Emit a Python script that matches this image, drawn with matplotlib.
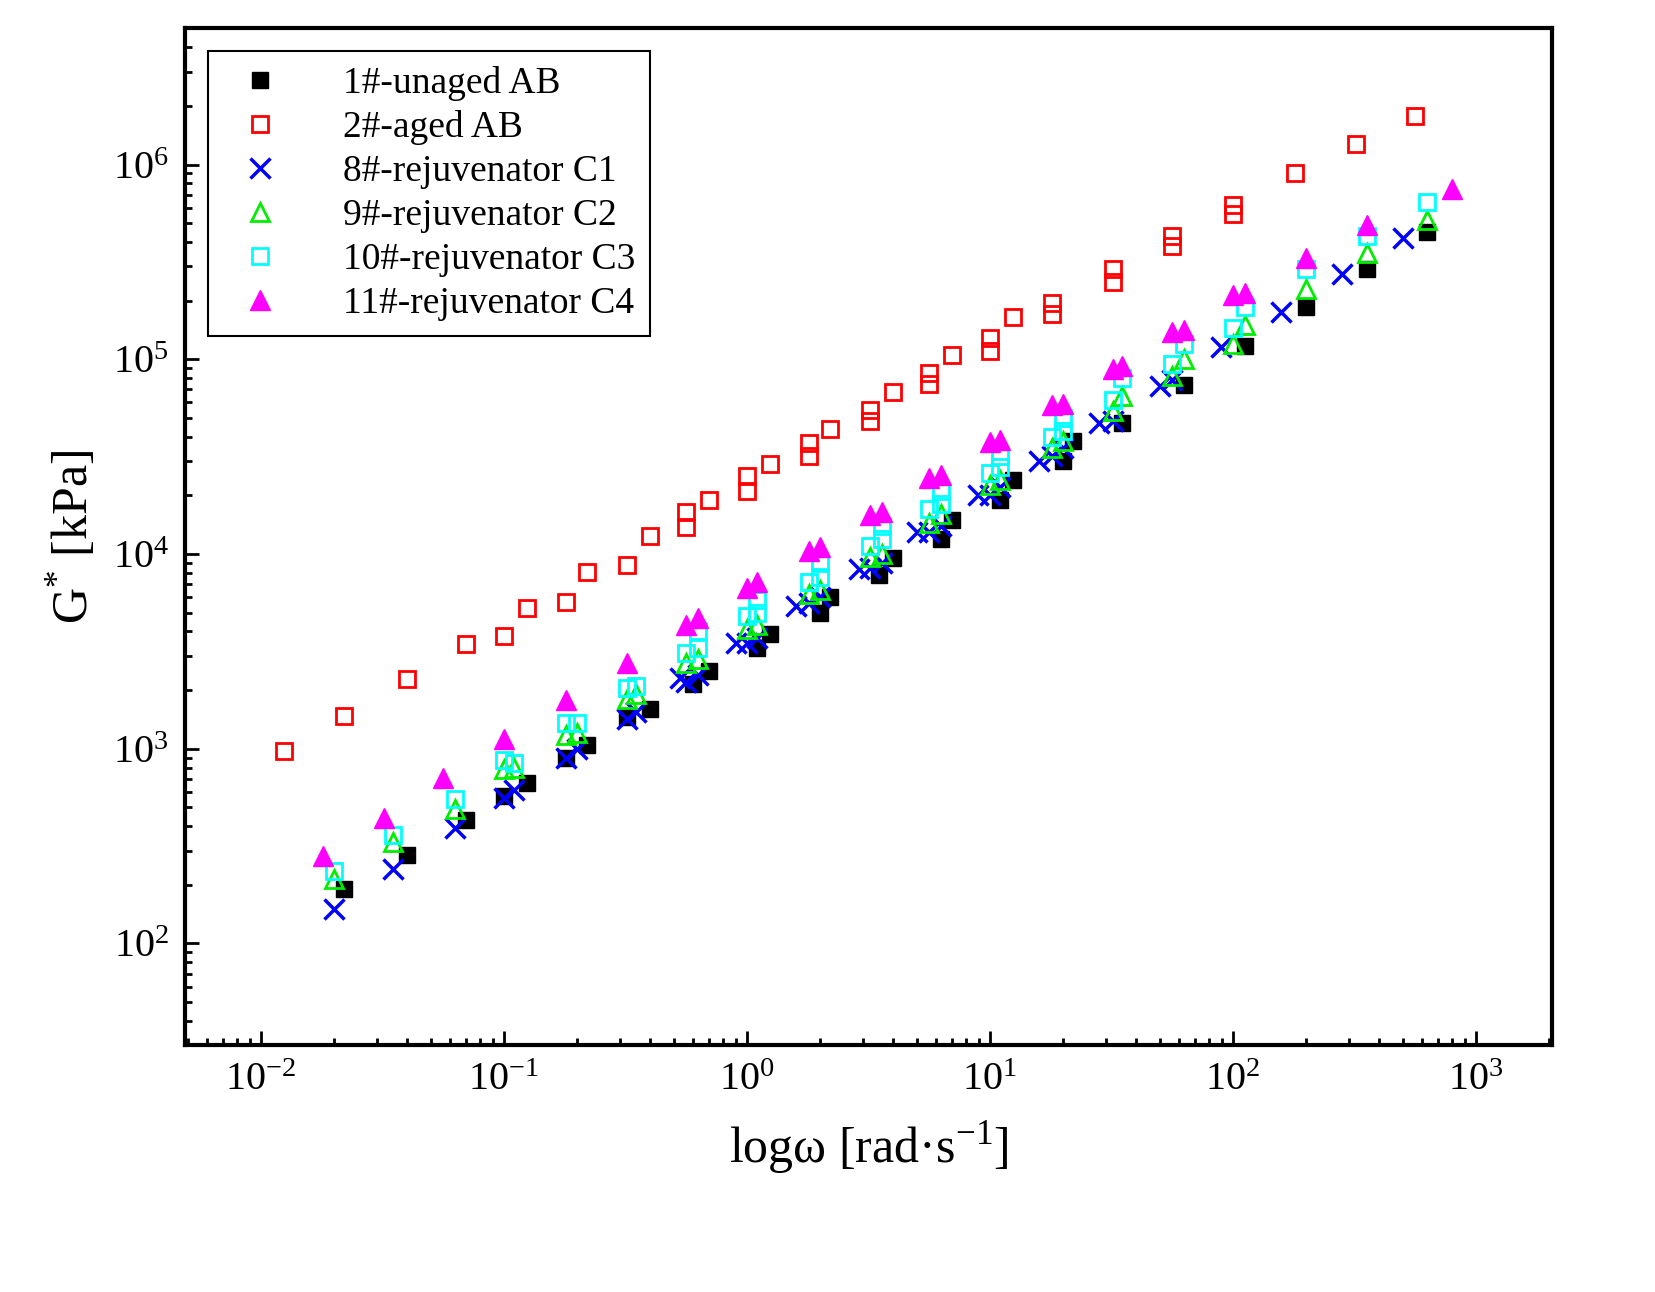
import numpy as np
import matplotlib
matplotlib.use('Agg')
from matplotlib import pyplot as plt

plt.rcParams['font.family'] = 'Liberation Serif'
plt.rcParams['mathtext.fontset'] = 'custom'
plt.rcParams['mathtext.rm'] = 'Liberation Serif'

unaged_w = [0.022, 0.04, 0.07, 0.1, 0.125, 0.18, 0.22, 0.32, 0.4, 0.6, 0.7, 1.1, 1.25, 2, 2.2,
            3.5, 4, 6.3, 7, 11, 12.5, 20, 22, 35, 63, 112, 200, 355, 630]
unaged_g = [190, 285, 430, 570, 670, 900, 1040, 1450, 1600, 2150, 2500, 3300, 3900, 5000, 6000,
            7800, 9500, 12000, 15000, 19000, 24000, 30000, 38000, 47000, 74000, 117000, 185000,
            290000, 450000]

aged_w = [0.0125, 0.022, 0.04, 0.07, 0.1, 0.125, 0.18, 0.22, 0.32, 0.4, 0.56, 0.56, 0.7, 1, 1,
          1.25, 1.8, 1.8, 2.2, 3.2, 3.2, 4, 5.6, 5.6, 7, 10, 10, 12.5, 18, 18, 32, 32, 56, 56,
          100, 100, 180, 320, 560]
aged_g = [970, 1480, 2280, 3450, 3800, 5300, 5700, 8100, 8800, 12300, 13800, 16500, 19000, 21000,
          25000, 29000, 32000, 37000, 44000, 48000, 55000, 68000, 75000, 85000, 105000, 110000,
          128000, 165000, 170000, 195000, 250000, 290000, 380000, 430000, 560000, 620000, 900000,
          1280000, 1780000]

c1_w = [0.02, 0.035, 0.063, 0.1, 0.11, 0.18, 0.2, 0.32, 0.35, 0.53, 0.56, 0.63, 0.9, 1, 1.1,
        1.6, 1.8, 2, 2.9, 3.2, 3.6, 5, 5.6, 6.3, 8.9, 10, 11, 16, 18, 20, 28, 32, 50, 56, 89,
        158, 280, 500]
c1_g = [150, 240, 390, 560, 610, 900, 1000, 1420, 1550, 2300, 2200, 2400, 3500, 3500, 3700,
        5400, 5600, 6000, 8400, 8500, 9000, 13000, 13000, 14000, 20000, 20000, 22000, 30000,
        32000, 35000, 47000, 48000, 73000, 78000, 115000, 175000, 275000, 420000]

c2_w = [0.02, 0.035, 0.063, 0.1, 0.11, 0.18, 0.2, 0.32, 0.35, 0.56, 0.63, 1, 1.1, 1.8, 2, 3.2,
        3.6, 5.6, 6.3, 10, 11, 18, 20, 32, 35, 56, 63, 100, 112, 200, 355, 630]
c2_g = [215, 330, 490, 790, 800, 1170, 1200, 1800, 1900, 2750, 2900, 4100, 4300, 6200, 6500,
        9700, 10000, 14500, 16000, 22500, 24000, 35000, 38000, 54000, 65000, 82000, 100000,
        120000, 150000, 230000, 350000, 520000]

c3_w = [0.02, 0.035, 0.063, 0.1, 0.11, 0.18, 0.2, 0.32, 0.35, 0.56, 0.63, 0.63, 1, 1.1, 1.1,
        1.8, 2, 2, 3.2, 3.6, 3.6, 5.6, 6.3, 6.3, 10, 11, 11, 18, 20, 20, 32, 35, 56, 63, 100,
        112, 200, 355, 630]
c3_g = [235, 360, 550, 880, 840, 1350, 1350, 2050, 2100, 3100, 3300, 4000, 4800, 5000, 5800,
        7200, 7600, 9000, 11000, 12000, 14000, 17000, 18000, 21000, 26000, 28000, 32000, 40000,
        43000, 50000, 62000, 80000, 95000, 120000, 145000, 185000, 290000, 430000, 640000]

c4_w = [0.018, 0.032, 0.056, 0.1, 0.18, 0.32, 0.56, 0.63, 1, 1.1, 1.8, 2, 3.2, 3.6, 5.6, 6.3,
        10, 11, 18, 20, 32, 35, 56, 63, 100, 112, 200, 355, 800]
c4_g = [280, 440, 710, 1120, 1780, 2750, 4300, 4700, 6700, 7200, 10300, 10800, 15800, 16500,
        24500, 25500, 37500, 38500, 58000, 59000, 89000, 92000, 138000, 142000, 213000, 218000,
        330000, 490000, 750000]

fig = plt.figure(figsize=(16.56, 12.92), dpi=100)
ax = fig.add_axes([0.112, 0.191, 0.825, 0.787])

ms = 11
ax.plot(unaged_w, unaged_g, 's', color='black', ms=ms, label='1#-unaged AB')
ax.plot(aged_w, aged_g, 's', mfc='none', mec='red', mew=2, ms=ms, label='2#-aged AB')
ax.plot(c1_w, c1_g, 'x', color='blue', mew=2.5, ms=ms + 3, label='8#-rejuvenator C1')
ax.plot(c2_w, c2_g, '^', mfc='none', mec='#00ee00', mew=2, ms=ms + 2, label='9#-rejuvenator C2')
ax.plot(c3_w, c3_g, 's', mfc='none', mec='cyan', mew=2, ms=ms, label='10#-rejuvenator C3')
ax.plot(c4_w, c4_g, '^', color='magenta', ms=ms + 3, label='11#-rejuvenator C4')

ax.set_xscale('log')
ax.set_yscale('log')
ax.set_xlim(4.9e-3, 2.05e3)
ax.set_ylim(30, 5e6)
ax.set_xlabel('logω [rad·s$^{-1}$]', fontsize=36, labelpad=14)
ax.set_ylabel('G$^{*}$ [kPa]', fontsize=36, labelpad=10)
ax.tick_params(which='both', direction='in', labelsize=29, width=2)
ax.tick_params(which='major', length=10, pad=12)
ax.tick_params(which='minor', length=5)
for s in ax.spines.values():
    s.set_linewidth(3)

leg = ax.legend(loc='upper left', fontsize=27, fancybox=False, edgecolor='black',
                framealpha=1, handletextpad=1.2, borderaxespad=0.6, labelspacing=0.25)
leg.get_frame().set_linewidth(1.5)

fig.savefig('out.png', dpi=100)
